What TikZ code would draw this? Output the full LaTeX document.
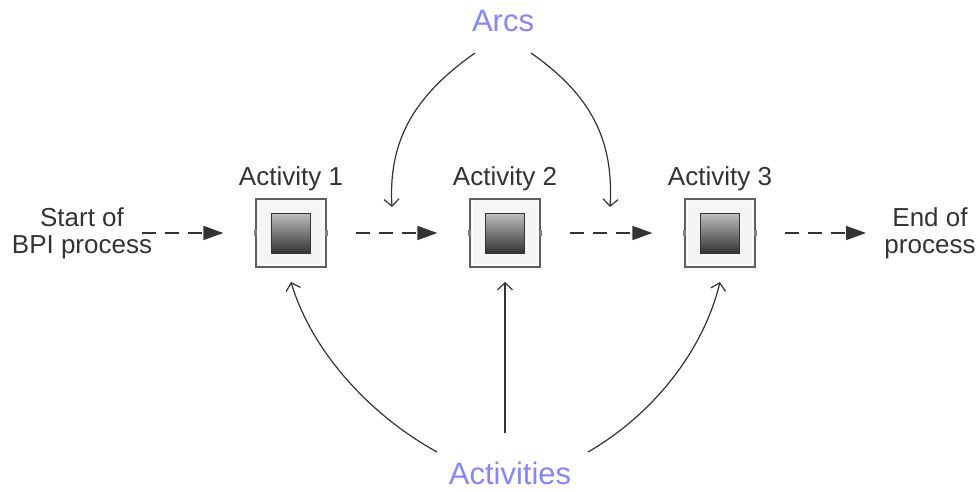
\documentclass[tikz,border=0pt]{standalone}
\usepackage{fontspec}
\setmainfont{Liberation Sans}
\usetikzlibrary{arrows.meta}
\definecolor{txt}{HTML}{333333}
\definecolor{blu}{HTML}{8585FF}
\begin{document}
\begin{tikzpicture}[x=1pt,y=-1pt,
 lbl/.style={text=txt,font=\fontsize{26}{27}\selectfont,align=center,inner sep=0},
 bl/.style={text=blu,font=\fontsize{31}{33}\selectfont,inner sep=0},
 actbox/.style={draw=gray!75!black,fill=gray!8,minimum width=70pt,minimum height=68pt,inner sep=0,line width=1.3pt},
 core/.style={draw=txt,line width=1pt,top color=gray!50,bottom color=black!80,minimum width=39pt,minimum height=40pt,inner sep=0},
 flow/.style={dash pattern=on 14pt off 9pt,line width=1.6pt,draw=txt,-{Triangle[length=20pt,width=14pt]},shorten <=29pt,shorten >=32pt},
 ptr/.style={line width=1.2pt,draw=txt,-{Straight Barb[length=7pt,width=15pt]}}
]
\useasboundingbox (0,0) rectangle (979,491);
% activity boxes
\foreach \n/\x in {1/291,2/505,3/720}{
  \node[actbox] (a\n) at (\x,233) {};
  \draw[white,line width=1pt] ([shift={(3,3)}]a\n.north west) rectangle ([shift={(-3,-3)}]a\n.south east);
  \node[core] (c\n) at (a\n.center) {};
  \fill[gray] ([shift={(-1.5,-3)}]a\n.west) rectangle ([shift={(1.5,3)}]a\n.west);
  \fill[gray] ([shift={(-1.5,-3)}]a\n.east) rectangle ([shift={(1.5,3)}]a\n.east);
  \node[lbl] (t\n) at (\x,179) {Activity \n};
}
\node[lbl] (s) at (82,233) {Start of\\BPI process};
\node[lbl] (e) at (930,233) {End of\\process};
\node[bl] (arcs) at (503,21) {Arcs};
\node[bl] (acts) at (510,473) {Activities};
% flow arrows
\draw[flow,shorten <=0pt] (142,233) coordinate (s0) -- (a1.west);
\draw[flow] (a1.east) -- (a2.west);
\draw[flow] (a2.east) -- (a3.west);
\draw[flow,shorten >=0pt] (a3.east) -- (866,233) coordinate (e0);
% arcs pointers
\coordinate (k1) at (392,207);
\coordinate (k2) at (610,207);
\draw[ptr] (475,53) .. controls (415,95) and (388,140) .. (k1);
\draw[ptr] (531,53) .. controls (591,95) and (614,140) .. (k2);
% activities pointers
\draw[ptr] (437,452) .. controls (370,415) and (312,352) .. (a1.south |- 0,282);
\draw[ptr] (505,433) -- (a2.south |- 0,282);
\draw[ptr] (588,452) .. controls (652,415) and (703,352) .. (a3.south |- 0,282);
\end{tikzpicture}
\end{document}
